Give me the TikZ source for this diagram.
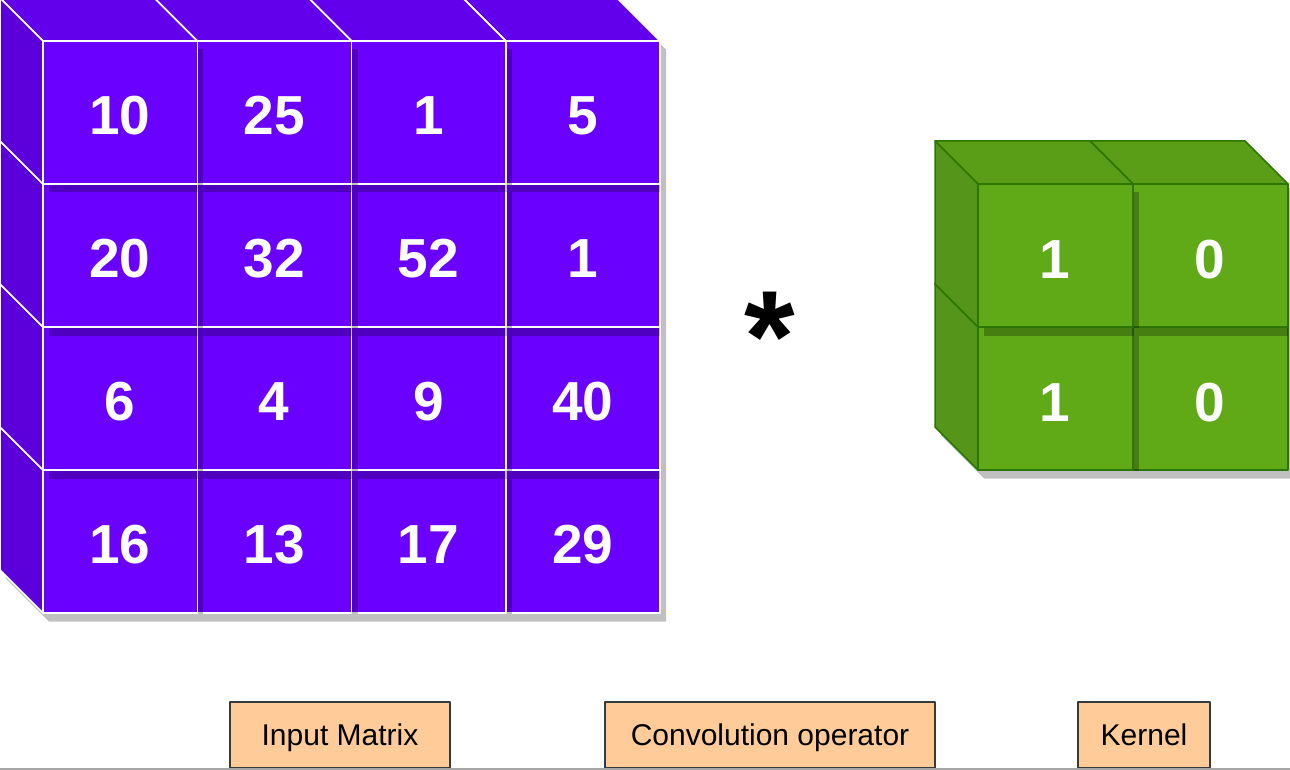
\documentclass[tikz,border=0pt]{standalone}
\usepackage{fontspec}
\setmainfont{Liberation Sans}
\definecolor{violetfront}{HTML}{6A00FF}
\definecolor{violettop}{HTML}{6200EC}
\definecolor{violetside}{HTML}{5B00DB}
\definecolor{greenfront}{HTML}{60A917}
\definecolor{greentop}{HTML}{5A9E17}
\definecolor{greenside}{HTML}{55961A}
\definecolor{greenedge}{HTML}{2D7600}
\definecolor{shadowgray}{HTML}{C0C0C0}
\definecolor{labelfill}{HTML}{FFCC99}
\definecolor{labeledge}{HTML}{36393D}

\begin{document}
\begin{tikzpicture}[x=1pt, y=-1pt, line join=round,
    cellnum/.style={text=white, font=\bfseries\fontsize{55}{60}\selectfont, inner sep=0pt},
    labelbox/.style={draw=labeledge, fill=labelfill, line width=2pt, minimum height=66pt, inner sep=0pt,
        text height=21.5pt, text depth=1.5pt, font=\fontsize{30}{36}\selectfont},
    dropshadow/.style={fill=black, fill opacity=0.25}]

    \useasboundingbox (0,0) rectangle (1290,770);

    % ombre du cube d'entree
    \fill[shadowgray, shift={(6,8.5)}] (0,0) -- (617,0) -- (660,41) -- (660,613) -- (43,613) -- (0,570) -- cycle;

    % petits cubes d'entree (du bas-droite vers le haut-gauche)
    \foreach \r in {3,2,1,0} {
        \foreach \c in {3,2,1,0} {
            \pgfmathsetmacro\x{43+154.25*\c}
            \pgfmathsetmacro\y{41+143*\r}
            % ombre face avant
            \begin{scope}
                \clip (43,41) rectangle (660,613);
                \fill[dropshadow] (\x+6,\y+8.5) rectangle ++(154.25,143);
            \end{scope}
            \filldraw[fill=violettop, draw=white, line width=1.5pt] (\x-43,\y-43) -- (\x+111.25,\y-43) -- (\x+154.25,\y) -- (\x,\y) -- cycle; % face dessus
            \filldraw[fill=violetside, draw=white, line width=1.5pt] (\x-43,\y-43) -- (\x,\y) -- (\x,\y+143) -- (\x-43,\y+100) -- cycle; % face gauche
            \filldraw[fill=violetfront, draw=white, line width=1.5pt] (\x,\y) rectangle ++(154.25,143); % face avant
        }
    }

    % valeurs de la matrice
    \foreach \v/\c/\r in {10/0/0, 25/1/0, 1/2/0, 5/3/0, 20/0/1, 32/1/1, 52/2/1, 1/3/1,
                          6/0/2, 4/1/2, 9/2/2, 40/3/2, 16/0/3, 13/1/3, 17/2/3, 29/3/3} {
        \node[cellnum] (in-\r-\c) at (43+154.25*\c+77, 41+143*\r+75) {\v};
    }

    % operateur
    \node[anchor=north, inner sep=0pt, font=\bfseries\fontsize{130}{130}\selectfont] (star) at (770,292) {*};

    % ombre du noyau
    \fill[shadowgray, shift={(6,8.5)}] (935,141) -- (1245,141) -- (1288,184) -- (1288,470) -- (978,470) -- (935,427) -- cycle;

    % petits cubes du noyau
    \foreach \r in {1,0} {
        \foreach \c in {1,0} {
            \pgfmathsetmacro\x{978+155*\c}
            \pgfmathsetmacro\y{184+143*\r}
            \begin{scope}
                \clip (978,184) rectangle (1288,470);
                \fill[dropshadow] (\x+6,\y+8.5) rectangle ++(155,143);
            \end{scope}
            \filldraw[fill=greentop, draw=greenedge, line width=1.5pt] (\x-43,\y-43) -- (\x+112,\y-43) -- (\x+155,\y) -- (\x,\y) -- cycle;
            \filldraw[fill=greenside, draw=greenedge, line width=1.5pt] (\x-43,\y-43) -- (\x,\y) -- (\x,\y+143) -- (\x-43,\y+100) -- cycle;
            \filldraw[fill=greenfront, draw=greenedge, line width=1.5pt] (\x,\y) rectangle ++(155,143);
        }
    }

    % valeurs du noyau
    \foreach \v/\c/\r in {1/0/0, 0/1/0, 1/0/1, 0/1/1} {
        \node[cellnum] (k-\r-\c) at (978+155*\c+77, 184+143*\r+76) {\v};
    }

    % legendes
    \node[labelbox, minimum width=220pt] (lblinput) at (340,735) {Input Matrix};
    \node[labelbox, minimum width=330pt] (lblconv) at (770,735) {Convolution operator};
    \node[labelbox, minimum width=132pt] (lblkernel) at (1144,735) {Kernel};

    % bord de page
    \draw[gray!70, line width=1.5pt] (0,769) -- (1290,769);
\end{tikzpicture}
\end{document}
